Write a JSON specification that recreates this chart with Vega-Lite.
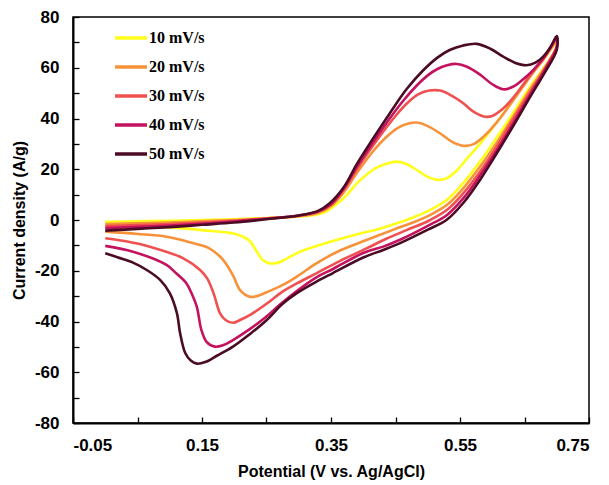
{
 "$schema": "https://vega.github.io/schema/vega-lite/v6.json",
 "width": 516, "height": 406,
 "autosize": {"type": "none"},
 "padding": {"left": 73, "top": 17, "right": 20, "bottom": 62},
 "background": "white",
 "config": {
  "view": {"stroke": "#000", "strokeWidth": 1.5},
  "axis": {"domainColor": "#000", "domainWidth": 2, "tickColor": "#000", "tickWidth": 1.3, "tickSize": -6,
   "labelFont": "Liberation Sans", "labelFontWeight": "bold", "labelFontSize": 17, "labelColor": "#000",
   "titleFont": "Liberation Sans", "titleFontWeight": "bold", "titleFontSize": 16, "titleColor": "#000", "grid": false}
 },
 "data": {"values": [
  {"rate":"10 mV/s","i":1,"v":0,"j":-0.7},{"rate":"10 mV/s","i":2,"v":0.05,"j":-0.5},{"rate":"10 mV/s","i":3,"v":0.1,"j":-0.3},{"rate":"10 mV/s","i":4,"v":0.15,"j":0},{"rate":"10 mV/s","i":5,"v":0.2,"j":0.3},{"rate":"10 mV/s","i":6,"v":0.25,"j":0.8},{"rate":"10 mV/s","i":7,"v":0.3,"j":1.4},{"rate":"10 mV/s","i":8,"v":0.325,"j":2},{"rate":"10 mV/s","i":9,"v":0.34,"j":3},{"rate":"10 mV/s","i":10,"v":0.36,"j":6.5},{"rate":"10 mV/s","i":11,"v":0.375,"j":10},{"rate":"10 mV/s","i":12,"v":0.39,"j":14.4},{"rate":"10 mV/s","i":13,"v":0.405,"j":17.8},{"rate":"10 mV/s","i":14,"v":0.42,"j":20.5},{"rate":"10 mV/s","i":15,"v":0.437,"j":22.3},{"rate":"10 mV/s","i":16,"v":0.452,"j":23},{"rate":"10 mV/s","i":17,"v":0.468,"j":22},{"rate":"10 mV/s","i":18,"v":0.483,"j":19.7},{"rate":"10 mV/s","i":19,"v":0.5,"j":17},{"rate":"10 mV/s","i":20,"v":0.516,"j":15.8},{"rate":"10 mV/s","i":21,"v":0.53,"j":16.5},{"rate":"10 mV/s","i":22,"v":0.545,"j":19.5},{"rate":"10 mV/s","i":23,"v":0.56,"j":24},{"rate":"10 mV/s","i":24,"v":0.581,"j":30},{"rate":"10 mV/s","i":25,"v":0.607,"j":38.5},{"rate":"10 mV/s","i":26,"v":0.632,"j":47},{"rate":"10 mV/s","i":27,"v":0.66,"j":57},{"rate":"10 mV/s","i":28,"v":0.68,"j":63.5},{"rate":"10 mV/s","i":29,"v":0.7,"j":70},
  {"rate":"10 mV/s","i":30,"v":0.7,"j":68},{"rate":"10 mV/s","i":31,"v":0.68,"j":60},{"rate":"10 mV/s","i":32,"v":0.66,"j":53},{"rate":"10 mV/s","i":33,"v":0.632,"j":42},{"rate":"10 mV/s","i":34,"v":0.607,"j":32.5},{"rate":"10 mV/s","i":35,"v":0.581,"j":23},{"rate":"10 mV/s","i":36,"v":0.555,"j":14.5},{"rate":"10 mV/s","i":37,"v":0.53,"j":8},{"rate":"10 mV/s","i":38,"v":0.5,"j":3.5},{"rate":"10 mV/s","i":39,"v":0.475,"j":0.8},{"rate":"10 mV/s","i":40,"v":0.45,"j":-1.5},{"rate":"10 mV/s","i":41,"v":0.42,"j":-3.8},{"rate":"10 mV/s","i":42,"v":0.4,"j":-5},{"rate":"10 mV/s","i":43,"v":0.35,"j":-8.5},{"rate":"10 mV/s","i":44,"v":0.302,"j":-12.5},{"rate":"10 mV/s","i":45,"v":0.281,"j":-15.3},{"rate":"10 mV/s","i":46,"v":0.268,"j":-16.8},{"rate":"10 mV/s","i":47,"v":0.255,"j":-17.1},{"rate":"10 mV/s","i":48,"v":0.245,"j":-16},{"rate":"10 mV/s","i":49,"v":0.235,"j":-12.5},{"rate":"10 mV/s","i":50,"v":0.224,"j":-8.3},{"rate":"10 mV/s","i":51,"v":0.21,"j":-6.2},{"rate":"10 mV/s","i":52,"v":0.199,"j":-5.3},{"rate":"10 mV/s","i":53,"v":0.15,"j":-4},{"rate":"10 mV/s","i":54,"v":0.121,"j":-3.3},{"rate":"10 mV/s","i":55,"v":0.06,"j":-2.4},{"rate":"10 mV/s","i":56,"v":0,"j":-1.5},
  {"rate":"20 mV/s","i":57,"v":0,"j":-1.6},{"rate":"20 mV/s","i":58,"v":0.05,"j":-1.3},{"rate":"20 mV/s","i":59,"v":0.1,"j":-1},{"rate":"20 mV/s","i":60,"v":0.15,"j":-0.5},{"rate":"20 mV/s","i":61,"v":0.2,"j":0},{"rate":"20 mV/s","i":62,"v":0.25,"j":0.6},{"rate":"20 mV/s","i":63,"v":0.3,"j":1.5},{"rate":"20 mV/s","i":64,"v":0.33,"j":2.8},{"rate":"20 mV/s","i":65,"v":0.35,"j":5.5},{"rate":"20 mV/s","i":66,"v":0.37,"j":11},{"rate":"20 mV/s","i":67,"v":0.39,"j":18.5},{"rate":"20 mV/s","i":68,"v":0.415,"j":27},{"rate":"20 mV/s","i":69,"v":0.435,"j":32.5},{"rate":"20 mV/s","i":70,"v":0.455,"j":36.5},{"rate":"20 mV/s","i":71,"v":0.47,"j":38},{"rate":"20 mV/s","i":72,"v":0.483,"j":38.4},{"rate":"20 mV/s","i":73,"v":0.5,"j":37},{"rate":"20 mV/s","i":74,"v":0.52,"j":34},{"rate":"20 mV/s","i":75,"v":0.54,"j":30.5},{"rate":"20 mV/s","i":76,"v":0.558,"j":29.2},{"rate":"20 mV/s","i":77,"v":0.572,"j":30},{"rate":"20 mV/s","i":78,"v":0.585,"j":32.5},{"rate":"20 mV/s","i":79,"v":0.607,"j":38.5},{"rate":"20 mV/s","i":80,"v":0.632,"j":47},{"rate":"20 mV/s","i":81,"v":0.66,"j":57},{"rate":"20 mV/s","i":82,"v":0.68,"j":63.5},{"rate":"20 mV/s","i":83,"v":0.7,"j":70},
  {"rate":"20 mV/s","i":84,"v":0.7,"j":68},{"rate":"20 mV/s","i":85,"v":0.68,"j":59.5},{"rate":"20 mV/s","i":86,"v":0.66,"j":52},{"rate":"20 mV/s","i":87,"v":0.632,"j":40.5},{"rate":"20 mV/s","i":88,"v":0.607,"j":30.5},{"rate":"20 mV/s","i":89,"v":0.581,"j":21},{"rate":"20 mV/s","i":90,"v":0.555,"j":12.5},{"rate":"20 mV/s","i":91,"v":0.53,"j":6},{"rate":"20 mV/s","i":92,"v":0.5,"j":1.5},{"rate":"20 mV/s","i":93,"v":0.477,"j":-1},{"rate":"20 mV/s","i":94,"v":0.45,"j":-3.5},{"rate":"20 mV/s","i":95,"v":0.405,"j":-7.9},{"rate":"20 mV/s","i":96,"v":0.36,"j":-12.5},{"rate":"20 mV/s","i":97,"v":0.328,"j":-17},{"rate":"20 mV/s","i":98,"v":0.297,"j":-22.3},{"rate":"20 mV/s","i":99,"v":0.276,"j":-25.5},{"rate":"20 mV/s","i":100,"v":0.25,"j":-28.5},{"rate":"20 mV/s","i":101,"v":0.235,"j":-30},{"rate":"20 mV/s","i":102,"v":0.224,"j":-30.2},{"rate":"20 mV/s","i":103,"v":0.209,"j":-27.6},{"rate":"20 mV/s","i":104,"v":0.199,"j":-22.3},{"rate":"20 mV/s","i":105,"v":0.188,"j":-17.5},{"rate":"20 mV/s","i":106,"v":0.178,"j":-14.4},{"rate":"20 mV/s","i":107,"v":0.16,"j":-11},{"rate":"20 mV/s","i":108,"v":0.147,"j":-9.9},{"rate":"20 mV/s","i":109,"v":0.095,"j":-6.6},{"rate":"20 mV/s","i":110,"v":0.05,"j":-5.5},{"rate":"20 mV/s","i":111,"v":0,"j":-4.6},
  {"rate":"30 mV/s","i":112,"v":0,"j":-2.4},{"rate":"30 mV/s","i":113,"v":0.05,"j":-2},{"rate":"30 mV/s","i":114,"v":0.1,"j":-1.6},{"rate":"30 mV/s","i":115,"v":0.15,"j":-1},{"rate":"30 mV/s","i":116,"v":0.2,"j":-0.3},{"rate":"30 mV/s","i":117,"v":0.25,"j":0.6},{"rate":"30 mV/s","i":118,"v":0.3,"j":1.7},{"rate":"30 mV/s","i":119,"v":0.33,"j":3.2},{"rate":"30 mV/s","i":120,"v":0.35,"j":6},{"rate":"30 mV/s","i":121,"v":0.37,"j":12},{"rate":"30 mV/s","i":122,"v":0.39,"j":20},{"rate":"30 mV/s","i":123,"v":0.42,"j":31},{"rate":"30 mV/s","i":124,"v":0.45,"j":41},{"rate":"30 mV/s","i":125,"v":0.47,"j":46.5},{"rate":"30 mV/s","i":126,"v":0.485,"j":49.5},{"rate":"30 mV/s","i":127,"v":0.502,"j":51},{"rate":"30 mV/s","i":128,"v":0.519,"j":51},{"rate":"30 mV/s","i":129,"v":0.537,"j":49},{"rate":"30 mV/s","i":130,"v":0.555,"j":46},{"rate":"30 mV/s","i":131,"v":0.572,"j":42.5},{"rate":"30 mV/s","i":132,"v":0.589,"j":40.7},{"rate":"30 mV/s","i":133,"v":0.6,"j":41},{"rate":"30 mV/s","i":134,"v":0.615,"j":43.5},{"rate":"30 mV/s","i":135,"v":0.632,"j":48},{"rate":"30 mV/s","i":136,"v":0.66,"j":57.5},{"rate":"30 mV/s","i":137,"v":0.68,"j":64},{"rate":"30 mV/s","i":138,"v":0.7,"j":71},
  {"rate":"30 mV/s","i":139,"v":0.7,"j":68.5},{"rate":"30 mV/s","i":140,"v":0.68,"j":59},{"rate":"30 mV/s","i":141,"v":0.66,"j":51},{"rate":"30 mV/s","i":142,"v":0.632,"j":39.5},{"rate":"30 mV/s","i":143,"v":0.607,"j":29},{"rate":"30 mV/s","i":144,"v":0.581,"j":19},{"rate":"30 mV/s","i":145,"v":0.555,"j":10.5},{"rate":"30 mV/s","i":146,"v":0.53,"j":4},{"rate":"30 mV/s","i":147,"v":0.5,"j":-0.5},{"rate":"30 mV/s","i":148,"v":0.467,"j":-4},{"rate":"30 mV/s","i":149,"v":0.435,"j":-7.5},{"rate":"30 mV/s","i":150,"v":0.405,"j":-11.2},{"rate":"30 mV/s","i":151,"v":0.365,"j":-16},{"rate":"30 mV/s","i":152,"v":0.328,"j":-20.9},{"rate":"30 mV/s","i":153,"v":0.297,"j":-25},{"rate":"30 mV/s","i":154,"v":0.276,"j":-28},{"rate":"30 mV/s","i":155,"v":0.25,"j":-33},{"rate":"30 mV/s","i":156,"v":0.224,"j":-37.5},{"rate":"30 mV/s","i":157,"v":0.209,"j":-39.4},{"rate":"30 mV/s","i":158,"v":0.198,"j":-40.5},{"rate":"30 mV/s","i":159,"v":0.187,"j":-39.5},{"rate":"30 mV/s","i":160,"v":0.178,"j":-36.8},{"rate":"30 mV/s","i":161,"v":0.168,"j":-28.9},{"rate":"30 mV/s","i":162,"v":0.158,"j":-23},{"rate":"30 mV/s","i":163,"v":0.147,"j":-19.7},{"rate":"30 mV/s","i":164,"v":0.121,"j":-15.1},{"rate":"30 mV/s","i":165,"v":0.069,"j":-10.5},{"rate":"30 mV/s","i":166,"v":0.03,"j":-8.3},{"rate":"30 mV/s","i":167,"v":0,"j":-7.2},
  {"rate":"40 mV/s","i":168,"v":0,"j":-3.2},{"rate":"40 mV/s","i":169,"v":0.05,"j":-2.7},{"rate":"40 mV/s","i":170,"v":0.1,"j":-2.2},{"rate":"40 mV/s","i":171,"v":0.15,"j":-1.5},{"rate":"40 mV/s","i":172,"v":0.2,"j":-0.6},{"rate":"40 mV/s","i":173,"v":0.25,"j":0.5},{"rate":"40 mV/s","i":174,"v":0.3,"j":1.8},{"rate":"40 mV/s","i":175,"v":0.33,"j":3.4},{"rate":"40 mV/s","i":176,"v":0.35,"j":6.3},{"rate":"40 mV/s","i":177,"v":0.37,"j":12.5},{"rate":"40 mV/s","i":178,"v":0.39,"j":21},{"rate":"40 mV/s","i":179,"v":0.415,"j":30.5},{"rate":"40 mV/s","i":180,"v":0.441,"j":40},{"rate":"40 mV/s","i":181,"v":0.462,"j":47},{"rate":"40 mV/s","i":182,"v":0.483,"j":53},{"rate":"40 mV/s","i":183,"v":0.5,"j":57},{"rate":"40 mV/s","i":184,"v":0.515,"j":59.5},{"rate":"40 mV/s","i":185,"v":0.53,"j":61},{"rate":"40 mV/s","i":186,"v":0.545,"j":61.5},{"rate":"40 mV/s","i":187,"v":0.56,"j":60.5},{"rate":"40 mV/s","i":188,"v":0.58,"j":57.5},{"rate":"40 mV/s","i":189,"v":0.6,"j":53.5},{"rate":"40 mV/s","i":190,"v":0.617,"j":51.5},{"rate":"40 mV/s","i":191,"v":0.632,"j":52.5},{"rate":"40 mV/s","i":192,"v":0.648,"j":55.5},{"rate":"40 mV/s","i":193,"v":0.663,"j":59},{"rate":"40 mV/s","i":194,"v":0.68,"j":64},{"rate":"40 mV/s","i":195,"v":0.7,"j":71.5},
  {"rate":"40 mV/s","i":196,"v":0.7,"j":68},{"rate":"40 mV/s","i":197,"v":0.68,"j":58.5},{"rate":"40 mV/s","i":198,"v":0.66,"j":50},{"rate":"40 mV/s","i":199,"v":0.632,"j":38},{"rate":"40 mV/s","i":200,"v":0.607,"j":27.5},{"rate":"40 mV/s","i":201,"v":0.581,"j":17.5},{"rate":"40 mV/s","i":202,"v":0.555,"j":8.5},{"rate":"40 mV/s","i":203,"v":0.53,"j":2},{"rate":"40 mV/s","i":204,"v":0.5,"j":-2.3},{"rate":"40 mV/s","i":205,"v":0.457,"j":-7.8},{"rate":"40 mV/s","i":206,"v":0.431,"j":-10.5},{"rate":"40 mV/s","i":207,"v":0.4,"j":-13},{"rate":"40 mV/s","i":208,"v":0.353,"j":-19.3},{"rate":"40 mV/s","i":209,"v":0.328,"j":-22.5},{"rate":"40 mV/s","i":210,"v":0.297,"j":-28},{"rate":"40 mV/s","i":211,"v":0.27,"j":-33.5},{"rate":"40 mV/s","i":212,"v":0.25,"j":-38},{"rate":"40 mV/s","i":213,"v":0.224,"j":-43},{"rate":"40 mV/s","i":214,"v":0.198,"j":-47.3},{"rate":"40 mV/s","i":215,"v":0.183,"j":-49.3},{"rate":"40 mV/s","i":216,"v":0.17,"j":-49.9},{"rate":"40 mV/s","i":217,"v":0.157,"j":-48},{"rate":"40 mV/s","i":218,"v":0.149,"j":-43.3},{"rate":"40 mV/s","i":219,"v":0.142,"j":-34.2},{"rate":"40 mV/s","i":220,"v":0.134,"j":-29},{"rate":"40 mV/s","i":221,"v":0.126,"j":-25},{"rate":"40 mV/s","i":222,"v":0.11,"j":-21},{"rate":"40 mV/s","i":223,"v":0.095,"j":-17.7},{"rate":"40 mV/s","i":224,"v":0.043,"j":-12.5},{"rate":"40 mV/s","i":225,"v":0,"j":-10.2},
  {"rate":"50 mV/s","i":226,"v":0,"j":-4.2},{"rate":"50 mV/s","i":227,"v":0.05,"j":-3.5},{"rate":"50 mV/s","i":228,"v":0.1,"j":-2.8},{"rate":"50 mV/s","i":229,"v":0.15,"j":-1.9},{"rate":"50 mV/s","i":230,"v":0.2,"j":-1},{"rate":"50 mV/s","i":231,"v":0.25,"j":0.3},{"rate":"50 mV/s","i":232,"v":0.3,"j":1.8},{"rate":"50 mV/s","i":233,"v":0.33,"j":3.6},{"rate":"50 mV/s","i":234,"v":0.348,"j":6.6},{"rate":"50 mV/s","i":235,"v":0.37,"j":13},{"rate":"50 mV/s","i":236,"v":0.39,"j":22},{"rate":"50 mV/s","i":237,"v":0.415,"j":32},{"rate":"50 mV/s","i":238,"v":0.441,"j":42},{"rate":"50 mV/s","i":239,"v":0.467,"j":51.5},{"rate":"50 mV/s","i":240,"v":0.493,"j":59},{"rate":"50 mV/s","i":241,"v":0.515,"j":64},{"rate":"50 mV/s","i":242,"v":0.534,"j":67},{"rate":"50 mV/s","i":243,"v":0.555,"j":68.8},{"rate":"50 mV/s","i":244,"v":0.576,"j":69.4},{"rate":"50 mV/s","i":245,"v":0.597,"j":67.5},{"rate":"50 mV/s","i":246,"v":0.617,"j":64.4},{"rate":"50 mV/s","i":247,"v":0.635,"j":62},{"rate":"50 mV/s","i":248,"v":0.653,"j":61},{"rate":"50 mV/s","i":249,"v":0.667,"j":62},{"rate":"50 mV/s","i":250,"v":0.679,"j":64.4},{"rate":"50 mV/s","i":251,"v":0.69,"j":68},{"rate":"50 mV/s","i":252,"v":0.7,"j":72.5},
  {"rate":"50 mV/s","i":253,"v":0.7,"j":67},{"rate":"50 mV/s","i":254,"v":0.68,"j":57.5},{"rate":"50 mV/s","i":255,"v":0.659,"j":48.6},{"rate":"50 mV/s","i":256,"v":0.632,"j":36.8},{"rate":"50 mV/s","i":257,"v":0.607,"j":26.3},{"rate":"50 mV/s","i":258,"v":0.581,"j":15.8},{"rate":"50 mV/s","i":259,"v":0.555,"j":6.7},{"rate":"50 mV/s","i":260,"v":0.529,"j":0},{"rate":"50 mV/s","i":261,"v":0.5,"j":-3.8},{"rate":"50 mV/s","i":262,"v":0.457,"j":-9.1},{"rate":"50 mV/s","i":263,"v":0.431,"j":-11.8},{"rate":"50 mV/s","i":264,"v":0.4,"j":-14.8},{"rate":"50 mV/s","i":265,"v":0.353,"j":-20.9},{"rate":"50 mV/s","i":266,"v":0.328,"j":-24.2},{"rate":"50 mV/s","i":267,"v":0.297,"j":-28.8},{"rate":"50 mV/s","i":268,"v":0.275,"j":-33},{"rate":"50 mV/s","i":269,"v":0.25,"j":-39.5},{"rate":"50 mV/s","i":270,"v":0.224,"j":-45},{"rate":"50 mV/s","i":271,"v":0.198,"j":-49.9},{"rate":"50 mV/s","i":272,"v":0.173,"j":-53.5},{"rate":"50 mV/s","i":273,"v":0.155,"j":-56},{"rate":"50 mV/s","i":274,"v":0.142,"j":-56.6},{"rate":"50 mV/s","i":275,"v":0.133,"j":-55.5},{"rate":"50 mV/s","i":276,"v":0.124,"j":-52.4},{"rate":"50 mV/s","i":277,"v":0.116,"j":-44.5},{"rate":"50 mV/s","i":278,"v":0.111,"j":-36.6},{"rate":"50 mV/s","i":279,"v":0.1,"j":-28.8},{"rate":"50 mV/s","i":280,"v":0.085,"j":-23.6},{"rate":"50 mV/s","i":281,"v":0.065,"j":-19.8},{"rate":"50 mV/s","i":282,"v":0.043,"j":-16.8},{"rate":"50 mV/s","i":283,"v":0.02,"j":-14.8},{"rate":"50 mV/s","i":284,"v":0,"j":-13.1}
 ]},
 "mark": {"type": "line", "strokeWidth": 2.6, "interpolate": "catmull-rom"},
 "encoding": {
  "x": {"field": "v", "type": "quantitative",
   "scale": {"domain": [-0.05, 0.75], "nice": false, "zero": false},
   "axis": {"values": [-0.05, 0.05, 0.15, 0.25, 0.35, 0.45, 0.55, 0.65, 0.75], "format": ".2f",
    "labelExpr": "round((datum.value + 0.05) * 10) % 2 == 0 ? replace(datum.label, '\u2212', '-') : ''",
    "labelPadding": 20, "title": "Potential (V vs. Ag/AgCl)", "titlePadding": 10}},
  "y": {"field": "j", "type": "quantitative",
   "scale": {"domain": [-80, 80], "nice": false, "zero": false},
   "axis": {"values": [-80, -70, -60, -50, -40, -30, -20, -10, 0, 10, 20, 30, 40, 50, 60, 70, 80],
    "labelExpr": "datum.value % 20 == 0 ? replace(datum.label, '\u2212', '-') : ''",
    "labelPadding": 20, "title": "Current density (A/g)", "titlePadding": 7}},
  "color": {"field": "rate", "type": "nominal",
   "scale": {"domain": ["10 mV/s", "20 mV/s", "30 mV/s", "40 mV/s", "50 mV/s"],
    "range": ["#FFFF1A", "#F7923A", "#F0504F", "#C4125E", "#4B0B25"]},
   "legend": {"orient": "none", "legendX": 40, "legendY": 3, "title": null, "padding": 0,
    "symbolType": "stroke", "symbolStrokeWidth": 3.5, "symbolSize": 1024, "rowPadding": 3,
    "labelFont": "Liberation Serif", "labelFontWeight": "bold", "labelFontSize": 16, "labelColor": "#000", "labelOffset": 0}},
  "order": {"field": "i", "type": "quantitative"}
 }
}
